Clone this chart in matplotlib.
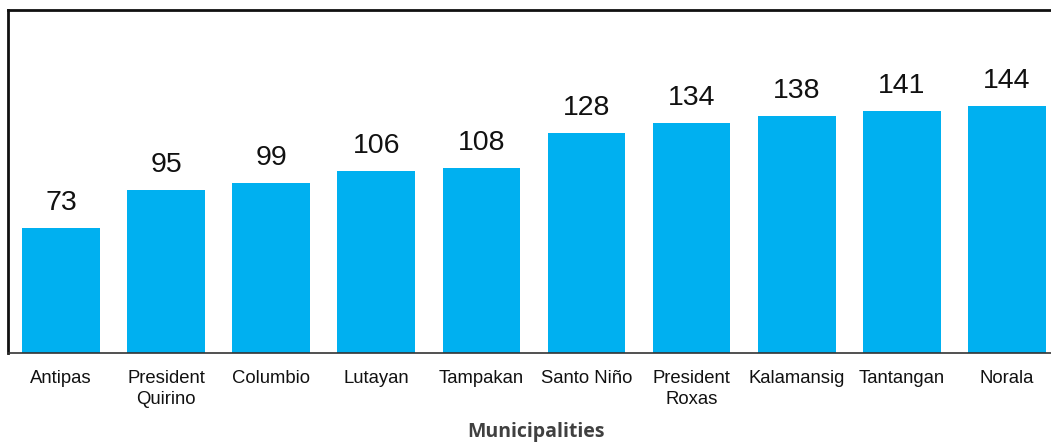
import matplotlib
matplotlib.use('Agg')
import matplotlib.pyplot as plt
import numpy as np

municipalities = ['Antipas', 'President\nQuirino', 'Columbio', 'Lutayan', 'Tampakan',
                  'Santo Niño', 'President\nRoxas', 'Kalamansig', 'Tantangan', 'Norala']
counts = [73, 95, 99, 106, 108, 128, 134, 138, 141, 144]

plt.rcParams['font.family'] = ['Liberation Sans', 'DejaVu Sans']

fig = plt.figure(figsize=(10.51, 4.44), dpi=100)
ax = fig.add_axes([8 / 1051, 1 - 353 / 444, 1 - 8 / 1051, 343 / 444])

x = np.arange(len(counts))
bars = ax.bar(x, counts, width=0.74, color='#00b0f0')

for xi, v in zip(x, counts):
    ax.text(xi, v + 7, str(v), ha='center', va='bottom', fontsize=20.5, color='#111111')

ax.set_xlim(-0.505, 9.42)
ax.set_ylim(0, 200)
ax.set_xticks(x)
ax.set_xticklabels(municipalities, fontsize=13.3, color='#111111', linespacing=1.3)
ax.tick_params(axis='x', length=0, pad=12)
ax.set_yticks([])

ax.spines['right'].set_visible(False)
ax.spines['top'].set_linewidth(2)
ax.spines['left'].set_linewidth(2)
ax.spines['top'].set_color('#111111')
ax.spines['left'].set_color('#111111')
ax.spines['bottom'].set_linewidth(1.2)
ax.spines['bottom'].set_color('#333333')

fig.text(536 / 1051, 1 - 432 / 444, 'Municipalities', ha='center', va='center',
         fontsize=14, fontweight='bold', color='#404040', family=['Open Sans', 'DejaVu Sans'])

fig.savefig('out.png', dpi=100)
